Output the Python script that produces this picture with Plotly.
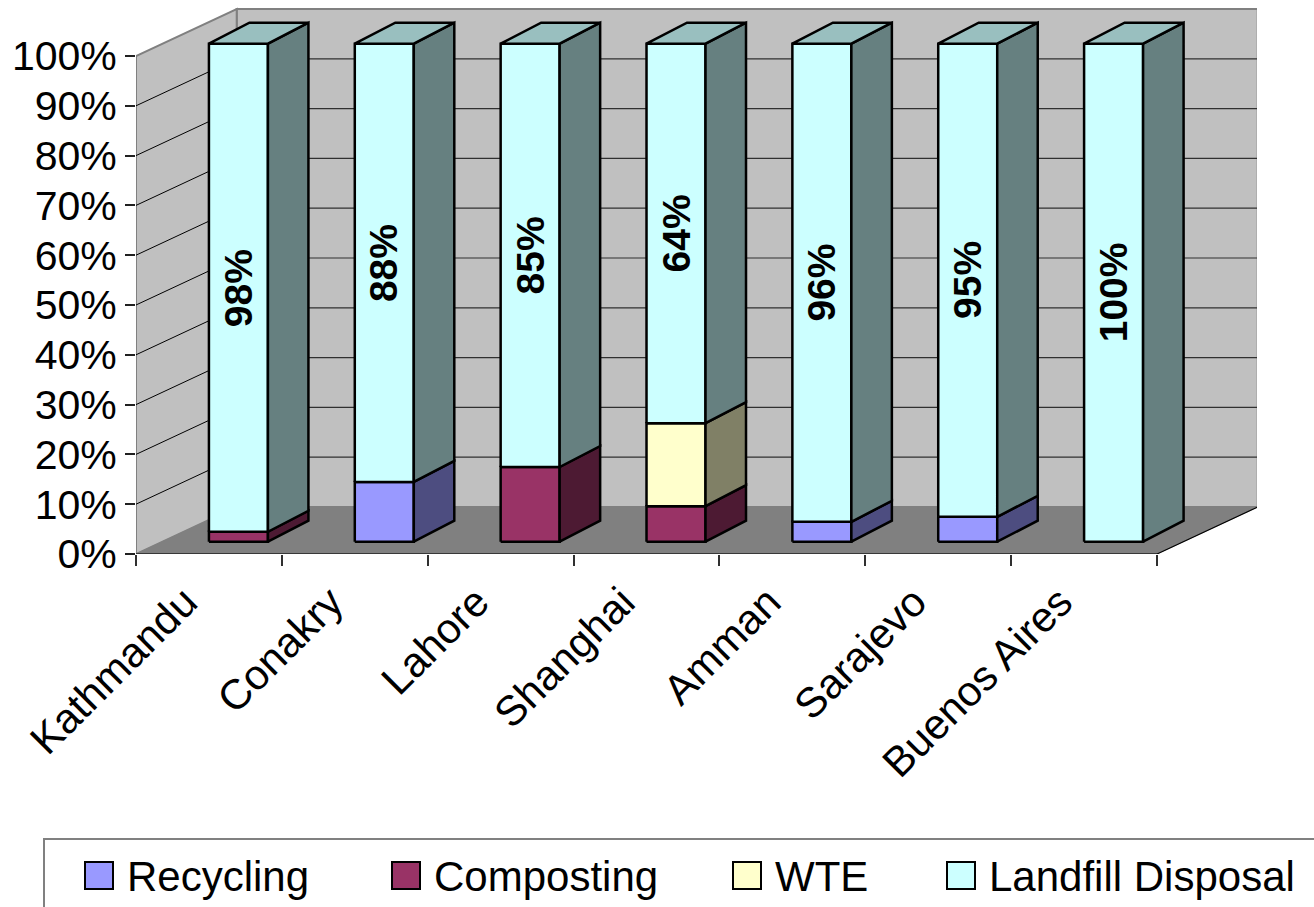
import plotly.graph_objects as go

# ---- data -------------------------------------------------------------
cities = ["Kathmandu", "Conakry", "Lahore", "Shanghai", "Amman", "Sarajevo", "Buenos Aires"]
series_names = ["Recycling", "Composting", "WTE", "Landfill Disposal"]
recycling = [0, 12, 0, 0, 4, 5, 0]
composting = [2, 0, 15, 6, 0, 0, 0]
wte = [0, 0, 0, 14, 0, 0, 0]
landfill = [98, 88, 85, 64, 96, 95, 100]
y_ticks = [0, 10, 20, 30, 40, 50, 60, 70, 80, 90, 100]
y_tick_text = [f"{v}%" for v in y_ticks]

# ---- styling ----------------------------------------------------------
front_colors = ["#9999FF", "#993366", "#FFFFCC", "#CCFFFF"]
side_colors = ["#4D4D80", "#4D1A33", "#808066", "#668080"]
top_colors = ["#7373BF", "#73264D", "#BFBF99", "#99BFBF"]
FONT = "Liberation Sans, Arial, sans-serif"

W, H = 1314, 907
ML, MR, MT, MB = 136, 57, 0, 353
PX_X = 145.86          # pixels per category
PX_Y = 4.98            # pixels per percent
X_MAX = (W - ML - MR) / PX_X
Y_MAX = (H - MT - MB) / PX_Y

# oblique depth of the chart box (walls / floor)
WDX, WDY = 100.7 / PX_X, 47.0 / PX_Y
# bar geometry
BX0, BY0 = 29.5 / PX_X, 12.3 / PX_Y     # front face offset into the box
BW = 59.0 / PX_X                          # front face width
BDX, BDY = 40.5 / PX_X, 21.0 / PX_Y      # bar depth

n = len(cities)
fig = go.Figure()


def poly(xs, ys, fill, line_color, line_width):
    fig.add_trace(go.Scatter(
        x=list(xs) + [xs[0]], y=list(ys) + [ys[0]], mode="lines", fill="toself",
        fillcolor=fill, line=dict(color=line_color, width=line_width),
        hoverinfo="skip", showlegend=False))


def seg(xs, ys, color, width):
    fig.add_trace(go.Scatter(x=xs, y=ys, mode="lines",
                             line=dict(color=color, width=width),
                             hoverinfo="skip", showlegend=False))


# ---- box: walls, floor, gridlines ------------------------------------
top = y_ticks[-1]
poly([WDX, n + WDX, n + WDX, WDX],
     [WDY, WDY, top + WDY, top + WDY], "#C0C0C0", "#808080", 2)          # back wall
poly([0, 0, WDX, WDX], [0, top, top + WDY, WDY], "#C0C0C0", "#808080", 2)  # side wall
poly([0, n, n + WDX, WDX], [0, 0, WDY, WDY], "#808080", "#808080", 0.5)    # floor
seg([n, n + WDX], [0, WDY], "#000000", 1.2)
seg([0, n], [0, 0], "#202020", 1.5)

for v in y_ticks[1:-1]:
    seg([0, WDX], [v, v + WDY], "#000000", 1)
    seg([WDX, n + WDX], [v + WDY, v + WDY], "#303030", 1.2)

# ---- stacked 3D bars ---------------------------------------------------
series = [recycling, composting, wte, landfill]
for i in range(n):
    total = sum(s[i] for s in series)
    xl = i + 0.5 - BW / 2 + BX0
    xr = xl + BW
    base = 0.0
    for k, s in enumerate(series):
        if s[i] <= 0:
            continue
        pct = s[i] / total * 100
        y0, y1 = BY0 + base, BY0 + base + pct
        poly([xl, xr, xr, xl], [y0, y0, y1, y1], front_colors[k], "#000000", 2.5)
        poly([xr, xr + BDX, xr + BDX, xr], [y0, y0 + BDY, y1 + BDY, y1],
             side_colors[k], "#000000", 2.5)
        base += pct
        last = k
    yt = BY0 + base
    poly([xl, xr, xr + BDX, xl + BDX], [yt, yt, yt + BDY, yt + BDY],
         top_colors[last], "#000000", 2.5)

    # value label on the landfill segment
    lf = landfill[i] / total * 100
    fig.add_annotation(x=(xl + xr) / 2, y=BY0 + 100 - lf / 2, text=f"<b>{landfill[i]}%</b>",
                       textangle=-90, showarrow=False, xanchor="center", yanchor="middle",
                       font=dict(family=FONT, size=39, color="#000000"))

# ---- legend (drawn in the bottom margin) -----------------------------
def px_x(p):
    return (p - ML) / (W - ML - MR)


def px_y(p):
    return (H - MB - p) / (H - MT - MB)


fig.add_shape(type="rect", xref="paper", yref="paper",
              x0=px_x(44), x1=px_x(1330), y0=px_y(839), y1=px_y(920),
              line=dict(color="#808080", width=2), fillcolor="rgba(0,0,0,0)")
key_x = [85, 392, 733, 947]
for k, name in enumerate(series_names):
    fig.add_shape(type="rect", xref="paper", yref="paper",
                  x0=px_x(key_x[k]), x1=px_x(key_x[k] + 28), y0=px_y(889), y1=px_y(862),
                  line=dict(color="#000000", width=2), fillcolor=front_colors[k])
    fig.add_annotation(xref="paper", yref="paper", x=px_x(key_x[k] + 40), y=px_y(877),
                       text=name, showarrow=False, xanchor="left", yanchor="middle",
                       font=dict(family=FONT, size=42, color="#000000"))

# ---- axes & layout ----------------------------------------------------
fig.update_layout(
    width=W, height=H,
    margin=dict(l=ML, r=MR, t=MT, b=MB, pad=0),
    paper_bgcolor="#FFFFFF", plot_bgcolor="#FFFFFF",
    showlegend=False,
    xaxis=dict(range=[0, X_MAX], showgrid=False, zeroline=False, showline=False,
               tickmode="array", tickvals=[i + 0.5 for i in range(n)], ticktext=cities,
               ticks="", tickangle=-45, ticklabelshift=-24, ticklabelstandoff=14,
               tickfont=dict(family=FONT, size=42, color="#000000"),
               minor=dict(tickmode="array", tickvals=list(range(n + 1)), ticks="outside",
                          ticklen=11, tickwidth=1.5, tickcolor="#303030", showgrid=False),
               fixedrange=True),
    yaxis=dict(range=[0, Y_MAX], showgrid=False, zeroline=False, showline=False,
               tickmode="array", tickvals=y_ticks, ticktext=y_tick_text,
               ticks="outside", ticklen=10, tickwidth=1.5, tickcolor="#202020",
               tickfont=dict(family=FONT, size=41, color="#000000"),
               fixedrange=True),
)

fig.write_html("out.html")
